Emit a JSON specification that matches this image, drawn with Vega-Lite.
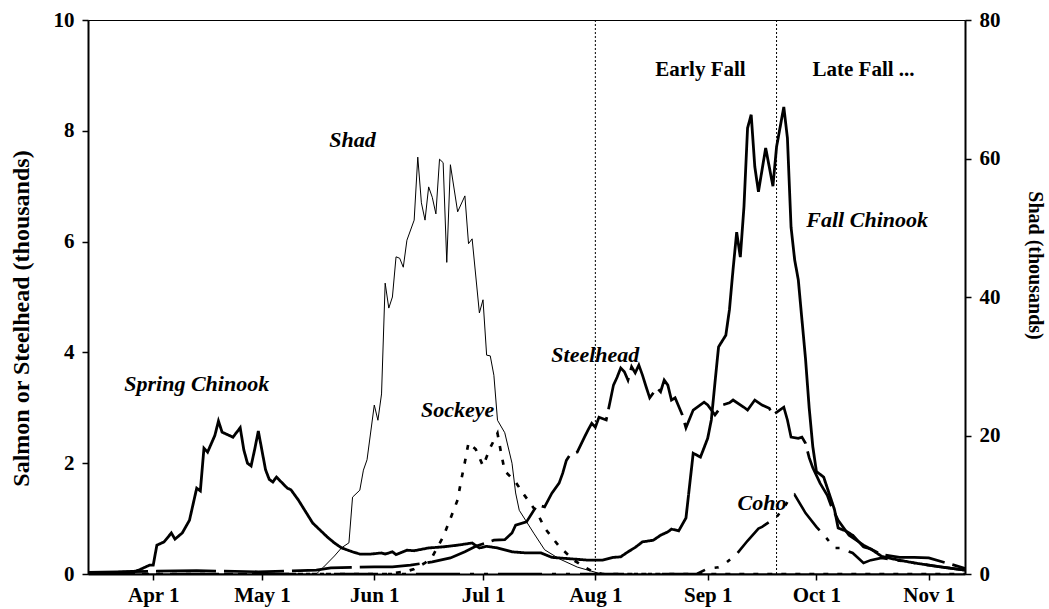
{
  "$schema": "https://vega.github.io/schema/vega-lite/v6.json",
  "width": 877,
  "height": 554,
  "autosize": "none",
  "padding": {"left": 88, "top": 20, "right": 84, "bottom": 35},
  "background": "white",
  "config": {
    "view": {"stroke": "black", "strokeWidth": 1},
    "font": "Liberation Serif",
    "axis": {
      "domainColor": "black", "domainWidth": 2, "tickColor": "black", "tickWidth": 1.5, "tickSize": 6,
      "labelFont": "Liberation Serif", "labelFontWeight": "bold", "labelFontSize": 21, "labelColor": "black",
      "titleFont": "Liberation Serif", "titleFontWeight": "bold", "titleFontSize": 20, "titleColor": "black",
      "grid": false
    }
  },
  "datasets": {
    "fish": [
      {"s":"Chinook","date":"2001-03-14","v":0.02},{"s":"Chinook","date":"2001-03-22","v":0.03},{"s":"Chinook","date":"2001-03-27","v":0.05},{"s":"Chinook","date":"2001-03-28","v":0.07},{"s":"Chinook","date":"2001-03-30","v":0.13},{"s":"Chinook","date":"2001-03-31","v":0.16},{"s":"Chinook","date":"2001-04-01","v":0.16},{"s":"Chinook","date":"2001-04-02","v":0.52},{"s":"Chinook","date":"2001-04-04","v":0.58},{"s":"Chinook","date":"2001-04-06","v":0.74},{"s":"Chinook","date":"2001-04-07","v":0.63},{"s":"Chinook","date":"2001-04-09","v":0.74},{"s":"Chinook","date":"2001-04-11","v":0.97},{"s":"Chinook","date":"2001-04-13","v":1.55},{"s":"Chinook","date":"2001-04-14","v":1.5},{"s":"Chinook","date":"2001-04-15","v":2.27},{"s":"Chinook","date":"2001-04-16","v":2.2},{"s":"Chinook","date":"2001-04-18","v":2.5},{"s":"Chinook","date":"2001-04-19","v":2.76},{"s":"Chinook","date":"2001-04-20","v":2.56},{"s":"Chinook","date":"2001-04-23","v":2.47},{"s":"Chinook","date":"2001-04-25","v":2.64},{"s":"Chinook","date":"2001-04-26","v":2.24},{"s":"Chinook","date":"2001-04-27","v":2.0},{"s":"Chinook","date":"2001-04-28","v":1.95},{"s":"Chinook","date":"2001-04-29","v":2.25},{"s":"Chinook","date":"2001-04-30","v":2.58},{"s":"Chinook","date":"2001-05-02","v":1.88},{"s":"Chinook","date":"2001-05-03","v":1.71},{"s":"Chinook","date":"2001-05-04","v":1.66},{"s":"Chinook","date":"2001-05-05","v":1.75},{"s":"Chinook","date":"2001-05-08","v":1.55},{"s":"Chinook","date":"2001-05-09","v":1.52},{"s":"Chinook","date":"2001-05-11","v":1.34},{"s":"Chinook","date":"2001-05-15","v":0.92},{"s":"Chinook","date":"2001-05-19","v":0.67},{"s":"Chinook","date":"2001-05-21","v":0.56},{"s":"Chinook","date":"2001-05-23","v":0.47},{"s":"Chinook","date":"2001-05-26","v":0.4},{"s":"Chinook","date":"2001-05-28","v":0.36},{"s":"Chinook","date":"2001-05-31","v":0.36},{"s":"Chinook","date":"2001-06-03","v":0.38},{"s":"Chinook","date":"2001-06-04","v":0.36},{"s":"Chinook","date":"2001-06-06","v":0.4},{"s":"Chinook","date":"2001-06-07","v":0.35},{"s":"Chinook","date":"2001-06-10","v":0.43},{"s":"Chinook","date":"2001-06-12","v":0.42},{"s":"Chinook","date":"2001-06-16","v":0.47},{"s":"Chinook","date":"2001-06-20","v":0.49},{"s":"Chinook","date":"2001-06-24","v":0.52},{"s":"Chinook","date":"2001-06-28","v":0.56},{"s":"Chinook","date":"2001-06-30","v":0.47},{"s":"Chinook","date":"2001-07-02","v":0.5},{"s":"Chinook","date":"2001-07-05","v":0.47},{"s":"Chinook","date":"2001-07-09","v":0.4},{"s":"Chinook","date":"2001-07-13","v":0.38},{"s":"Chinook","date":"2001-07-17","v":0.38},{"s":"Chinook","date":"2001-07-20","v":0.3},{"s":"Chinook","date":"2001-07-26","v":0.27},{"s":"Chinook","date":"2001-07-30","v":0.25},{"s":"Chinook","date":"2001-08-03","v":0.25},{"s":"Chinook","date":"2001-08-06","v":0.3},{"s":"Chinook","date":"2001-08-08","v":0.31},{"s":"Chinook","date":"2001-08-10","v":0.4},{"s":"Chinook","date":"2001-08-12","v":0.48},{"s":"Chinook","date":"2001-08-14","v":0.58},{"s":"Chinook","date":"2001-08-17","v":0.61},{"s":"Chinook","date":"2001-08-19","v":0.7},{"s":"Chinook","date":"2001-08-21","v":0.76},{"s":"Chinook","date":"2001-08-22","v":0.81},{"s":"Chinook","date":"2001-08-24","v":0.78},{"s":"Chinook","date":"2001-08-26","v":1.01},{"s":"Chinook","date":"2001-08-28","v":2.18},{"s":"Chinook","date":"2001-08-30","v":2.11},{"s":"Chinook","date":"2001-09-01","v":2.45},{"s":"Chinook","date":"2001-09-02","v":2.78},{"s":"Chinook","date":"2001-09-03","v":3.45},{"s":"Chinook","date":"2001-09-04","v":4.1},{"s":"Chinook","date":"2001-09-06","v":4.31},{"s":"Chinook","date":"2001-09-07","v":4.77},{"s":"Chinook","date":"2001-09-08","v":5.5},{"s":"Chinook","date":"2001-09-09","v":6.17},{"s":"Chinook","date":"2001-09-10","v":5.72},{"s":"Chinook","date":"2001-09-11","v":6.62},{"s":"Chinook","date":"2001-09-12","v":8.05},{"s":"Chinook","date":"2001-09-13","v":8.29},{"s":"Chinook","date":"2001-09-14","v":7.35},{"s":"Chinook","date":"2001-09-15","v":6.9},{"s":"Chinook","date":"2001-09-17","v":7.69},{"s":"Chinook","date":"2001-09-19","v":7.0},{"s":"Chinook","date":"2001-09-20","v":7.71},{"s":"Chinook","date":"2001-09-22","v":8.43},{"s":"Chinook","date":"2001-09-23","v":7.87},{"s":"Chinook","date":"2001-09-24","v":6.26},{"s":"Chinook","date":"2001-09-25","v":5.67},{"s":"Chinook","date":"2001-09-26","v":5.31},{"s":"Chinook","date":"2001-09-28","v":3.88},{"s":"Chinook","date":"2001-09-29","v":3.0},{"s":"Chinook","date":"2001-09-30","v":2.3},{"s":"Chinook","date":"2001-10-01","v":1.85},{"s":"Chinook","date":"2001-10-03","v":1.75},{"s":"Chinook","date":"2001-10-06","v":1.16},{"s":"Chinook","date":"2001-10-07","v":0.83},{"s":"Chinook","date":"2001-10-09","v":0.78},{"s":"Chinook","date":"2001-10-11","v":0.7},{"s":"Chinook","date":"2001-10-14","v":0.49},{"s":"Chinook","date":"2001-10-16","v":0.45},{"s":"Chinook","date":"2001-10-19","v":0.32},{"s":"Chinook","date":"2001-10-23","v":0.26},{"s":"Chinook","date":"2001-10-28","v":0.2},{"s":"Chinook","date":"2001-11-04","v":0.13},{"s":"Chinook","date":"2001-11-11","v":0.07},

      {"s":"Steelhead","date":"2001-03-14","v":0.03},{"s":"Steelhead","date":"2001-04-02","v":0.05},{"s":"Steelhead","date":"2001-04-13","v":0.06},{"s":"Steelhead","date":"2001-04-30","v":0.04},{"s":"Steelhead","date":"2001-05-16","v":0.07},{"s":"Steelhead","date":"2001-05-20","v":0.11},{"s":"Steelhead","date":"2001-06-01","v":0.13},{"s":"Steelhead","date":"2001-06-06","v":0.13},{"s":"Steelhead","date":"2001-06-11","v":0.16},{"s":"Steelhead","date":"2001-06-17","v":0.22},{"s":"Steelhead","date":"2001-06-22","v":0.29},{"s":"Steelhead","date":"2001-06-26","v":0.4},{"s":"Steelhead","date":"2001-06-29","v":0.5},{"s":"Steelhead","date":"2001-07-04","v":0.61},{"s":"Steelhead","date":"2001-07-07","v":0.62},{"s":"Steelhead","date":"2001-07-09","v":0.74},{"s":"Steelhead","date":"2001-07-10","v":0.88},{"s":"Steelhead","date":"2001-07-13","v":0.94},{"s":"Steelhead","date":"2001-07-16","v":1.25},{"s":"Steelhead","date":"2001-07-18","v":1.21},{"s":"Steelhead","date":"2001-07-20","v":1.46},{"s":"Steelhead","date":"2001-07-22","v":1.64},{"s":"Steelhead","date":"2001-07-23","v":1.82},{"s":"Steelhead","date":"2001-07-24","v":2.05},{"s":"Steelhead","date":"2001-07-25","v":2.15},{"s":"Steelhead","date":"2001-07-27","v":2.2},{"s":"Steelhead","date":"2001-07-29","v":2.47},{"s":"Steelhead","date":"2001-07-30","v":2.6},{"s":"Steelhead","date":"2001-07-31","v":2.72},{"s":"Steelhead","date":"2001-08-01","v":2.65},{"s":"Steelhead","date":"2001-08-02","v":2.83},{"s":"Steelhead","date":"2001-08-04","v":2.78},{"s":"Steelhead","date":"2001-08-05","v":3.09},{"s":"Steelhead","date":"2001-08-06","v":3.41},{"s":"Steelhead","date":"2001-08-07","v":3.55},{"s":"Steelhead","date":"2001-08-08","v":3.72},{"s":"Steelhead","date":"2001-08-09","v":3.65},{"s":"Steelhead","date":"2001-08-10","v":3.5},{"s":"Steelhead","date":"2001-08-11","v":3.74},{"s":"Steelhead","date":"2001-08-12","v":3.63},{"s":"Steelhead","date":"2001-08-13","v":3.77},{"s":"Steelhead","date":"2001-08-14","v":3.59},{"s":"Steelhead","date":"2001-08-15","v":3.38},{"s":"Steelhead","date":"2001-08-16","v":3.18},{"s":"Steelhead","date":"2001-08-18","v":3.36},{"s":"Steelhead","date":"2001-08-19","v":3.29},{"s":"Steelhead","date":"2001-08-20","v":3.5},{"s":"Steelhead","date":"2001-08-21","v":3.41},{"s":"Steelhead","date":"2001-08-22","v":3.14},{"s":"Steelhead","date":"2001-08-23","v":3.18},{"s":"Steelhead","date":"2001-08-25","v":2.87},{"s":"Steelhead","date":"2001-08-26","v":2.64},{"s":"Steelhead","date":"2001-08-28","v":2.96},{"s":"Steelhead","date":"2001-08-31","v":3.1},{"s":"Steelhead","date":"2001-09-01","v":3.05},{"s":"Steelhead","date":"2001-09-03","v":2.87},{"s":"Steelhead","date":"2001-09-05","v":3.05},{"s":"Steelhead","date":"2001-09-07","v":3.09},{"s":"Steelhead","date":"2001-09-08","v":3.14},{"s":"Steelhead","date":"2001-09-11","v":3.01},{"s":"Steelhead","date":"2001-09-12","v":2.96},{"s":"Steelhead","date":"2001-09-14","v":3.14},{"s":"Steelhead","date":"2001-09-16","v":3.05},{"s":"Steelhead","date":"2001-09-18","v":2.99},{"s":"Steelhead","date":"2001-09-19","v":2.87},{"s":"Steelhead","date":"2001-09-22","v":3.01},{"s":"Steelhead","date":"2001-09-23","v":2.78},{"s":"Steelhead","date":"2001-09-24","v":2.47},{"s":"Steelhead","date":"2001-09-26","v":2.45},{"s":"Steelhead","date":"2001-09-27","v":2.47},{"s":"Steelhead","date":"2001-09-28","v":2.36},{"s":"Steelhead","date":"2001-09-29","v":2.1},{"s":"Steelhead","date":"2001-09-30","v":1.92},{"s":"Steelhead","date":"2001-10-02","v":1.64},{"s":"Steelhead","date":"2001-10-04","v":1.42},{"s":"Steelhead","date":"2001-10-05","v":1.24},{"s":"Steelhead","date":"2001-10-07","v":0.97},{"s":"Steelhead","date":"2001-10-09","v":0.79},{"s":"Steelhead","date":"2001-10-10","v":0.7},{"s":"Steelhead","date":"2001-10-12","v":0.61},{"s":"Steelhead","date":"2001-10-14","v":0.52},{"s":"Steelhead","date":"2001-10-19","v":0.35},{"s":"Steelhead","date":"2001-10-24","v":0.3},{"s":"Steelhead","date":"2001-10-28","v":0.3},{"s":"Steelhead","date":"2001-11-01","v":0.29},{"s":"Steelhead","date":"2001-11-08","v":0.16},{"s":"Steelhead","date":"2001-11-11","v":0.1},

      {"s":"Sockeye","date":"2001-03-14","v":0},{"s":"Sockeye","date":"2001-06-05","v":0},{"s":"Sockeye","date":"2001-06-10","v":0.05},{"s":"Sockeye","date":"2001-06-12","v":0.09},{"s":"Sockeye","date":"2001-06-15","v":0.2},{"s":"Sockeye","date":"2001-06-17","v":0.31},{"s":"Sockeye","date":"2001-06-20","v":0.67},{"s":"Sockeye","date":"2001-06-22","v":1.0},{"s":"Sockeye","date":"2001-06-24","v":1.34},{"s":"Sockeye","date":"2001-06-25","v":1.7},{"s":"Sockeye","date":"2001-06-26","v":2.02},{"s":"Sockeye","date":"2001-06-27","v":2.37},{"s":"Sockeye","date":"2001-06-29","v":2.25},{"s":"Sockeye","date":"2001-07-01","v":1.95},{"s":"Sockeye","date":"2001-07-03","v":2.28},{"s":"Sockeye","date":"2001-07-05","v":2.54},{"s":"Sockeye","date":"2001-07-06","v":2.18},{"s":"Sockeye","date":"2001-07-07","v":1.86},{"s":"Sockeye","date":"2001-07-10","v":1.66},{"s":"Sockeye","date":"2001-07-12","v":1.46},{"s":"Sockeye","date":"2001-07-16","v":1.1},{"s":"Sockeye","date":"2001-07-18","v":0.83},{"s":"Sockeye","date":"2001-07-22","v":0.5},{"s":"Sockeye","date":"2001-07-26","v":0.25},{"s":"Sockeye","date":"2001-07-31","v":0.05},{"s":"Sockeye","date":"2001-08-03","v":0},{"s":"Sockeye","date":"2001-11-11","v":0},

      {"s":"Coho","date":"2001-03-14","v":0},{"s":"Coho","date":"2001-08-29","v":0},{"s":"Coho","date":"2001-09-01","v":0.1},{"s":"Coho","date":"2001-09-04","v":0.12},{"s":"Coho","date":"2001-09-06","v":0.2},{"s":"Coho","date":"2001-09-09","v":0.36},{"s":"Coho","date":"2001-09-12","v":0.6},{"s":"Coho","date":"2001-09-15","v":0.82},{"s":"Coho","date":"2001-09-16","v":0.85},{"s":"Coho","date":"2001-09-18","v":0.94},{"s":"Coho","date":"2001-09-20","v":1.03},{"s":"Coho","date":"2001-09-22","v":1.19},{"s":"Coho","date":"2001-09-23","v":1.3},{"s":"Coho","date":"2001-09-25","v":1.43},{"s":"Coho","date":"2001-09-28","v":1.1},{"s":"Coho","date":"2001-10-01","v":0.85},{"s":"Coho","date":"2001-10-04","v":0.63},{"s":"Coho","date":"2001-10-06","v":0.47},{"s":"Coho","date":"2001-10-08","v":0.47},{"s":"Coho","date":"2001-10-09","v":0.43},{"s":"Coho","date":"2001-10-11","v":0.38},{"s":"Coho","date":"2001-10-14","v":0.2},{"s":"Coho","date":"2001-10-16","v":0.25},{"s":"Coho","date":"2001-10-19","v":0.29},{"s":"Coho","date":"2001-10-23","v":0.25},{"s":"Coho","date":"2001-10-28","v":0.2},{"s":"Coho","date":"2001-11-04","v":0.13},{"s":"Coho","date":"2001-11-11","v":0.07}
    ],
    "shad": [
      {"date":"2001-03-14","v":0},{"date":"2001-05-16","v":0},{"date":"2001-05-18","v":1.0},{"date":"2001-05-21","v":2.6},{"date":"2001-05-23","v":3.8},{"date":"2001-05-25","v":4.5},{"date":"2001-05-26","v":11.1},{"date":"2001-05-28","v":12.1},{"date":"2001-05-29","v":15},{"date":"2001-05-30","v":16.5},{"date":"2001-06-01","v":24.4},{"date":"2001-06-02","v":22.2},{"date":"2001-06-03","v":26},{"date":"2001-06-04","v":42},{"date":"2001-06-05","v":38.4},{"date":"2001-06-06","v":40},{"date":"2001-06-07","v":45.8},{"date":"2001-06-08","v":45.6},{"date":"2001-06-09","v":44.3},{"date":"2001-06-10","v":48.2},{"date":"2001-06-12","v":51.1},{"date":"2001-06-13","v":60.2},{"date":"2001-06-14","v":53.6},{"date":"2001-06-15","v":51.1},{"date":"2001-06-16","v":55.9},{"date":"2001-06-17","v":54.4},{"date":"2001-06-18","v":52},{"date":"2001-06-19","v":59.9},{"date":"2001-06-20","v":59.4},{"date":"2001-06-21","v":45},{"date":"2001-06-22","v":59.1},{"date":"2001-06-24","v":52.3},{"date":"2001-06-26","v":54.6},{"date":"2001-06-27","v":47.7},{"date":"2001-06-28","v":48.4},{"date":"2001-06-30","v":37.7},{"date":"2001-07-01","v":39.6},{"date":"2001-07-02","v":31.6},{"date":"2001-07-03","v":31.5},{"date":"2001-07-04","v":28.7},{"date":"2001-07-05","v":22.2},{"date":"2001-07-07","v":20.4},{"date":"2001-07-09","v":16},{"date":"2001-07-10","v":11.7},{"date":"2001-07-11","v":9.2},{"date":"2001-07-15","v":5.9},{"date":"2001-07-18","v":3.5},{"date":"2001-07-22","v":2.2},{"date":"2001-07-27","v":1.0},{"date":"2001-08-02","v":0.1},{"date":"2001-08-05","v":0},{"date":"2001-11-11","v":0}
    ],
    "labels_italic": [
      {"label":"Spring Chinook","date":"2001-04-13","v":3.43},
      {"label":"Shad","date":"2001-05-26","v":7.83},
      {"label":"Sockeye","date":"2001-06-24","v":2.96},
      {"label":"Steelhead","date":"2001-08-01","v":3.95},
      {"label":"Fall Chinook","date":"2001-10-15","v":6.39},
      {"label":"Coho","date":"2001-09-16","v":1.28}
    ],
    "labels_plain": [
      {"label":"Early Fall","date":"2001-08-30","v":9.1},
      {"label":"Late Fall ...","date":"2001-10-14","v":9.1}
    ],
    "bounds": [
      {"date":"2001-08-01"},
      {"date":"2001-09-20"}
    ]
  },
  "encoding": {
    "x": {
      "field": "date", "type": "temporal",
      "scale": {"type": "utc", "domain": [{"year":2001,"month":3,"date":14,"utc":true},{"year":2001,"month":11,"date":11,"utc":true}]},
      "axis": {
        "title": null, "labelExpr": "utcFormat(datum.value, '%b %-d')", "labelPadding": 4, "ticks": true, "domain": true,
        "values": [
          {"year":2001,"month":4,"date":1,"utc":true},{"year":2001,"month":5,"date":1,"utc":true},{"year":2001,"month":6,"date":1,"utc":true},{"year":2001,"month":7,"date":1,"utc":true},
          {"year":2001,"month":8,"date":1,"utc":true},{"year":2001,"month":9,"date":1,"utc":true},{"year":2001,"month":10,"date":1,"utc":true},{"year":2001,"month":11,"date":1,"utc":true}
        ]
      }
    }
  },
  "layer": [
    {
      "layer": [
        {
          "data": {"name": "bounds"},
          "mark": {"type": "rule", "color": "black", "strokeWidth": 1, "strokeDash": [2, 2]},
          "encoding": {}
        },
        {
          "data": {"name": "fish"},
          "mark": {"type": "line", "color": "black", "clip": true},
          "encoding": {
            "y": {"field": "v", "type": "quantitative", "scale": {"domain": [0, 10]},
                  "axis": {"title": "Salmon or Steelhead (thousands)", "values": [0,2,4,6,8,10], "labelPadding": 8, "titlePadding": 20, "titleFontSize": 24, "titleY": 298}},
            "detail": {"field": "s", "type": "nominal"},
            "strokeDash": {"field": "s", "type": "nominal", "legend": null,
              "scale": {"domain": ["Chinook","Steelhead","Sockeye","Coho"], "range": [[1,0],[60,8],[5,9],[44,10,4,10,4,10]]}},
            "strokeWidth": {"field": "s", "type": "nominal", "legend": null,
              "scale": {"domain": ["Chinook","Steelhead","Sockeye","Coho"], "range": [2.8,2.6,3.2,2.6]}}
          }
        },
        {
          "data": {"name": "labels_italic"},
          "mark": {"type": "text", "font": "Liberation Serif", "fontWeight": "bold", "fontStyle": "italic", "fontSize": 22, "color": "black", "align": "center", "baseline": "middle"},
          "encoding": {
            "y": {"field": "v", "type": "quantitative", "scale": {"domain": [0, 10]},
                  "axis": {"title": "Salmon or Steelhead (thousands)", "values": [0,2,4,6,8,10], "labelPadding": 8, "titlePadding": 20, "titleFontSize": 24, "titleY": 298}},
            "text": {"field": "label", "type": "nominal"}
          }
        },
        {
          "data": {"name": "labels_plain"},
          "mark": {"type": "text", "font": "Liberation Serif", "fontWeight": "bold", "fontSize": 21, "color": "black", "align": "center", "baseline": "middle"},
          "encoding": {
            "y": {"field": "v", "type": "quantitative", "scale": {"domain": [0, 10]},
                  "axis": {"title": "Salmon or Steelhead (thousands)", "values": [0,2,4,6,8,10], "labelPadding": 8, "titlePadding": 20, "titleFontSize": 24, "titleY": 298}},
            "text": {"field": "label", "type": "nominal"}
          }
        }
      ]
    },
    {
      "data": {"name": "shad"},
      "mark": {"type": "line", "color": "black", "strokeWidth": 1, "clip": true},
      "encoding": {
        "y": {"field": "v", "type": "quantitative", "scale": {"domain": [0, 80]},
              "axis": {"orient": "right", "title": "Shad (thousands)", "values": [0,20,40,60,80], "labelPadding": 8, "titlePadding": 24, "titleY": 245}}
      }
    }
  ],
  "resolve": {"scale": {"y": "independent"}}
}
